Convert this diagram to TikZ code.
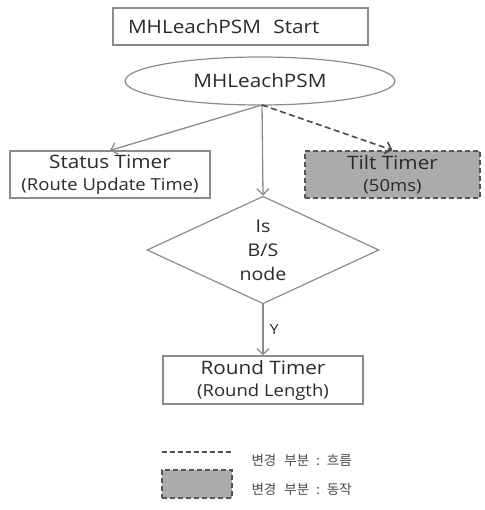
\documentclass[tikz,border=0pt]{standalone}
\usepackage{fontspec}
\setmainfont[FakeStretch=1.12]{Open Sans}
\newfontfamily\krfont{Noto Sans CJK KR}
\usetikzlibrary{shapes.geometric,arrows.meta}
\definecolor{linegray}{HTML}{8C8C8C}
\definecolor{textdark}{HTML}{2A2A2A}
\definecolor{boxfill}{HTML}{ABABAB}
\newcommand{\lineone}[1]{{\fontsize{18.5}{22}\selectfont #1}}
\newcommand{\linetwo}[1]{{\fontsize{16.5}{22}\selectfont #1}}
\begin{document}
\begin{tikzpicture}[x=1pt,y=1pt,
  every node/.style={text=textdark},
  plainbox/.style={draw=linegray,line width=1.2pt,rectangle,inner sep=0pt,align=center,font=\fontsize{16.5}{22}\selectfont},
  changebox/.style={draw=textdark!80,fill=boxfill,dash pattern=on 5pt off 3pt,line width=1.6pt,rectangle,inner sep=0pt,align=center,font=\fontsize{16.5}{22}\selectfont},
  flow/.style={draw=linegray,line width=1.3pt,-{Straight Barb[length=6pt,width=12pt]}},
  changeflow/.style={draw=textdark!85,line width=1.6pt,dash pattern=on 6pt off 3.5pt,-{Straight Barb[length=6pt,width=12pt]}},
  big/.style={font=\fontsize{18.5}{21}\selectfont},
  leg/.style={font=\krfont\fontsize{13.5}{15}\selectfont,text=textdark!85,anchor=west}
]
\useasboundingbox (0,0) rectangle (484,-510);
\fill[white] (0,0) rectangle (484,-510);

\node[plainbox,minimum width=255pt,minimum height=37pt,text width=225pt,align=left,big] (start) at (240.5,-26.5) {MHLeachPSM\ \ Start};
\node[ellipse,draw=linegray,line width=1.2pt,minimum width=270pt,minimum height=48pt,inner sep=0pt,big] (ell) at (260,-81) {MHLeachPSM};

\node[plainbox,minimum width=200pt,minimum height=47pt] (status) at (110,-174.5)
  {\lineone{Status Timer}\\\linetwo{(Route Update Time)}};
\node[changebox,minimum width=175pt,minimum height=47pt] (tilt) at (392.5,-174.5)
  {\lineone{Tilt Timer}\\\linetwo{(50ms)}};

\node[diamond,draw=linegray,line width=1.2pt,minimum width=232pt,minimum height=102pt,inner sep=0pt,align=center,font=\fontsize{17.5}{24}\selectfont] (dia) at (263,-250) {Is\\B/S\\node};

\node[plainbox,minimum width=200pt,minimum height=48pt] (round) at (263,-380)
  {\lineone{Round Timer}\\\linetwo{(Round Length)}};

\coordinate (src) at (262,-105);
\draw[flow] (src) -- (status.north);
\draw[flow] (src) -- (dia.north);
\draw[changeflow] (src) -- (tilt.north);
\draw[flow] (dia.south) -- node[right,xshift=3pt,font=\fontsize{14}{16}\selectfont] (ylab) {Y} (round.north);

% legend
\coordinate (l1a) at (162,-452);
\coordinate (l1b) at (232,-452);
\draw[draw=textdark!85,line width=1.6pt,dash pattern=on 5pt off 3pt] (l1a) -- (l1b);
\node[leg] (leg1) at (248,-460) {변경\hspace{8pt}부분\hspace{7pt}:\hspace{7pt}흐름};
\node[changebox,minimum width=70pt,minimum height=28pt] (legbox) at (197,-484) {};
\node[leg] (leg2) at (248,-489) {변경\hspace{8pt}부분\hspace{7pt}:\hspace{7pt}동작};
\end{tikzpicture}
\end{document}
